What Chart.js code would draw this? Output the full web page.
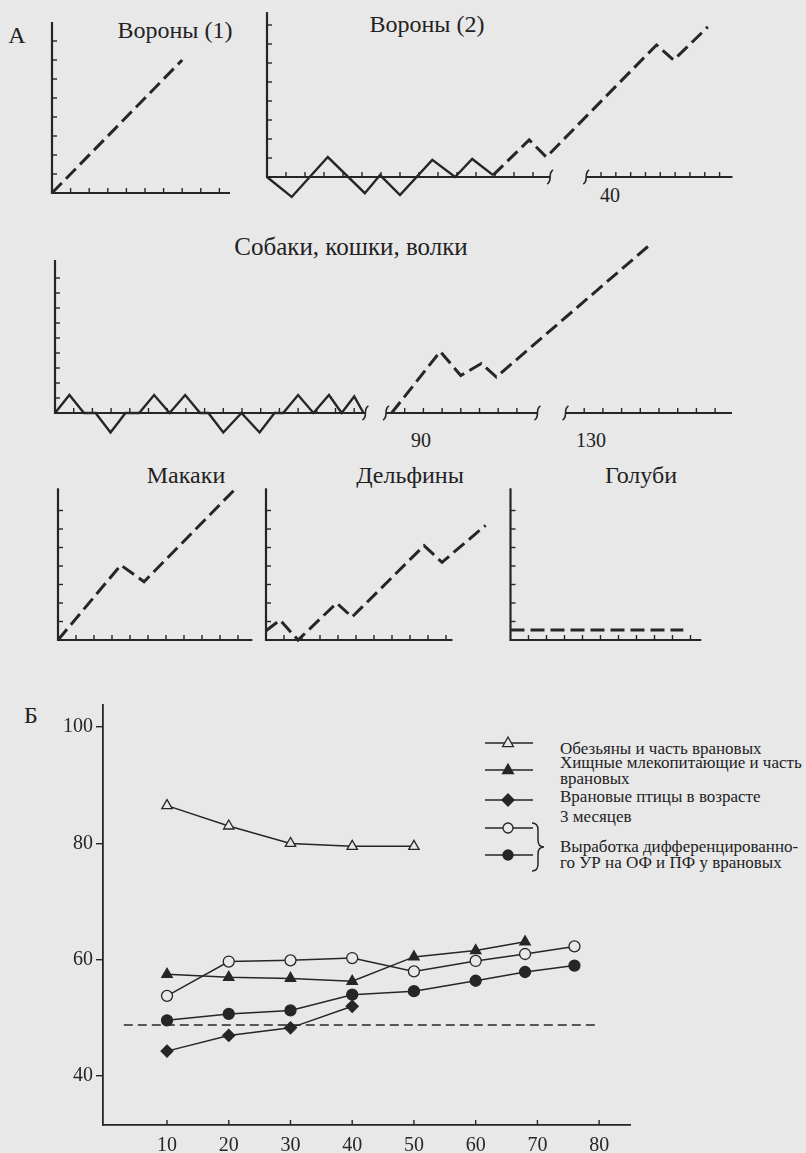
<!DOCTYPE html>
<html lang="ru">
<head>
<meta charset="utf-8" />
<title>Решение задачи на размерность</title>
<script src="https://cdn.jsdelivr.net/npm/chart.js/dist/chart.umd.min.js"></script>
<style>
  body { margin: 0; width: 806px; height: 1153px; overflow: hidden; position: relative;
         background: #e8e8e8; color: #222; font-family: "Liberation Serif", "DejaVu Serif", serif; }
  canvas { position: absolute; }
  .lbl { position: absolute; transform: translate(-50%, -50%); white-space: nowrap; line-height: 1; font-size: 24px; }
  .num { font-size: 20px; }
  .leg { position: absolute; left: 560px; white-space: nowrap; line-height: 1; font-size: 17px; }
</style>
</head>
<body>
<div class="lbl" style="left:17px;top:35px">А</div>
<div class="lbl" style="left:175px;top:30px">Вороны (1)</div>
<div class="lbl" style="left:427px;top:24px">Вороны (2)</div>
<div class="lbl num" style="left:610px;top:195px">40</div>
<div class="lbl" style="left:351px;top:246px;font-size:25px">Собаки, кошки, волки</div>
<div class="lbl num" style="left:421px;top:440px">90</div>
<div class="lbl num" style="left:591px;top:440px">130</div>
<div class="lbl" style="left:186px;top:475px">Макаки</div>
<div class="lbl" style="left:410px;top:475px">Дельфины</div>
<div class="lbl" style="left:641px;top:475px">Голуби</div>
<div class="lbl" style="left:31px;top:715px">Б</div>

<div class="leg" style="top:740px">Обезьяны и часть врановых</div>
<div class="leg" style="top:754px">Хищные млекопитающие и часть</div>
<div class="leg" style="top:770px">врановых</div>
<div class="leg" style="top:788px">Врановые птицы в возрасте</div>
<div class="leg" style="top:808px">3 месяцев</div>
<div class="leg" style="top:838px">Выработка дифференцированно-</div>
<div class="leg" style="top:854px">го УР на ОФ и ПФ у врановых</div>

<canvas id="crows1"></canvas>
<canvas id="crows2"></canvas>
<canvas id="dogs"></canvas>
<canvas id="macaques"></canvas>
<canvas id="dolphins"></canvas>
<canvas id="pigeons"></canvas>
<canvas id="chartB" width="806" height="463" style="left:0;top:690px"></canvas>

<script>
// ---- panel A: schematic curves, x and y in axis-tick units ----
const crows1X = [0, 7];
const crows1Y = [0, 7];

const crows2SolidX = [0, 1.3, 3.2, 5.15, 5.95, 7.0, 8.7, 9.9, 10.8, 11.9];
const crows2SolidY = [0, -1.05, 1.05, -0.85, 0.1, -0.95, 0.9, 0, 0.95, 0.1];
const crows2DashX = [11.9, 13.8, 14.7, 20.5, 21.4, 23.2];
const crows2DashY = [0.1, 1.95, 1.05, 6.95, 6.15, 7.9];

const dogsSolidX = [0, 0.77, 1.55, 2.17, 2.97, 3.77, 4.5, 5.3, 6.13, 6.96, 7.76, 8.2, 9.0, 9.97, 10.94, 11.74, 12.2, 13.0, 13.82, 14.65, 15.33, 16.0, 16.5];
const dogsSolidY = [0, 1.2, 0, 0, -1.3, 0, 0, 1.2, 0, 1.2, 0, 0, -1.3, 0, -1.3, 0, 0, 1.2, 0, 1.2, 0, 1.1, 0];
const dogsDashX = [18, 20.6, 21.7, 22.8, 23.6, 31.8];
const dogsDashY = [0, 4.1, 2.5, 3.3, 2.4, 11.2];

const macaquesX = [0, 3.49, 4.78, 9.78];
const macaquesY = [0, 4.05, 3.15, 8.1];

const dolphinsX = [0, 0.78, 1.78, 3.93, 4.78, 8.78, 9.78, 12.2];
const dolphinsY = [0.5, 1.08, 0, 2.0, 1.24, 5.1, 4.2, 6.2];

const pigeonsX = [0, 9.6];
const pigeonsY = [0.54, 0.54];

// ---- panel Б: % correct by trials ----
const xTicksB = [10, 20, 30, 40, 50, 60, 70, 80];
const yTicksB = [40, 60, 80, 100];

const monkeysX = [10, 20, 30, 40, 50];
const monkeysY = [86.5, 83, 80, 79.5, 79.5];
const carnivoresX = [10, 20, 30, 40, 50, 60, 68];
const carnivoresY = [57.5, 57, 56.8, 56.3, 60.5, 61.6, 63.1];
const youngCorvidsX = [10, 20, 30, 40];
const youngCorvidsY = [44.3, 47, 48.3, 52];
const diffOpenX = [10, 20, 30, 40, 50, 60, 68, 76];
const diffOpenY = [53.8, 59.7, 59.9, 60.3, 58, 59.8, 61, 62.3];
const diffFilledX = [10, 20, 30, 40, 50, 60, 68, 76];
const diffFilledY = [49.6, 50.7, 51.3, 54, 54.6, 56.4, 57.9, 59];
const chanceX = [3, 80];
const chanceY = [48.8, 48.8];

const INK = "#262626";
const PAPER = "#e8e8e8";
const pts = (xs, ys) => xs.map((v, i) => ({ x: v, y: ys[i] }));

// axes of the little panels, drawn from their scales
const sketchAxes = {
  id: "sketchAxes",
  beforeDatasetsDraw(chart, args, o) {
    const { ctx, scales: { x, y } } = chart;
    const x0 = x.getPixelForValue(0), y0 = y.getPixelForValue(0);
    ctx.save();
    ctx.strokeStyle = INK;
    ctx.lineWidth = 2.2;
    ctx.beginPath();
    ctx.moveTo(x0, y0 + 1);
    ctx.lineTo(x0, y.getPixelForValue(o.yTop));
    ctx.stroke();
    ctx.lineWidth = 1.4;
    for (let v = 1; v <= o.yTicks; v++) {
      const p = y.getPixelForValue(v);
      ctx.beginPath(); ctx.moveTo(x0, p); ctx.lineTo(x0 + 5, p); ctx.stroke();
    }
    o.segs.forEach(s => {
      ctx.lineWidth = 2.2;
      ctx.beginPath();
      ctx.moveTo(x.getPixelForValue(s.from), y0);
      ctx.lineTo(x.getPixelForValue(s.to), y0);
      ctx.stroke();
      ctx.lineWidth = 1.4;
      for (let v = s.from + s.step; v < s.to - 0.2; v += s.step) {
        const p = x.getPixelForValue(v);
        ctx.beginPath(); ctx.moveTo(p, y0); ctx.lineTo(p, y0 - 5); ctx.stroke();
      }
    });
    // axis breaks
    ctx.lineWidth = 1.6;
    (o.breaks || []).forEach(v => {
      const p = x.getPixelForValue(v);
      ctx.beginPath();
      ctx.moveTo(p - 3, y0 + 7);
      ctx.bezierCurveTo(p + 3, y0 + 4, p - 3, y0 - 4, p + 3, y0 - 7);
      ctx.stroke();
    });
    ctx.restore();
  }
};

const dashed = (xs, ys) => ({ data: pts(xs, ys), borderColor: INK, borderWidth: 3, borderDash: [14, 6], pointRadius: 0, tension: 0 });
const solid = (xs, ys) => ({ data: pts(xs, ys), borderColor: INK, borderWidth: 2.4, pointRadius: 0, tension: 0 });

// box = [left, top, width, height], origin = axis corner in page px, unit = px per tick
function sketch(id, box, origin, unit, datasets, axes) {
  const cv = document.getElementById(id);
  cv.width = box[2]; cv.height = box[3];
  cv.style.left = box[0] + "px"; cv.style.top = box[1] + "px";
  new Chart(cv, {
    type: "line",
    data: { datasets },
    options: {
      responsive: false, animation: false, events: [],
      layout: { padding: 0 },
      plugins: { legend: { display: false }, tooltip: { enabled: false }, sketchAxes: axes },
      scales: {
        x: { type: "linear", display: false,
             min: (box[0] - origin[0]) / unit[0], max: (box[0] + box[2] - origin[0]) / unit[0] },
        y: { type: "linear", display: false,
             min: (origin[1] - box[1] - box[3]) / unit[1], max: (origin[1] - box[1]) / unit[1] }
      }
    },
    plugins: [sketchAxes]
  });
}

sketch("crows1", [38, 8, 210, 200], [52, 193], [18.6, 19],
  [dashed(crows1X, crows1Y)],
  { yTop: 9, yTicks: 8, segs: [{ from: 0, to: 9.57, step: 1 }] });

sketch("crows2", [255, 4, 490, 210], [267, 177], [19, 19],
  [solid(crows2SolidX, crows2SolidY), dashed(crows2DashX, crows2DashY)],
  { yTop: 8.68, yTicks: 8, segs: [{ from: 0, to: 14.9, step: 1 }, { from: 16.8, to: 24.5, step: 0.78 }], breaks: [14.9, 16.8] });

sketch("dogs", [40, 230, 710, 225], [55, 413], [18.7, 15],
  [solid(dogsSolidX, dogsSolidY), dashed(dogsDashX, dogsDashY)],
  { yTop: 10.2, yTicks: 9, segs: [{ from: 0, to: 16.6, step: 1 }, { from: 17.7, to: 25.8, step: 1 }, { from: 27.3, to: 36.2, step: 1 }], breaks: [16.6, 17.7, 25.8, 27.3] });

sketch("macaques", [45, 480, 215, 175], [58, 640], [18, 18.5],
  [dashed(macaquesX, macaquesY)],
  { yTop: 8.2, yTicks: 7, segs: [{ from: 0, to: 10.8, step: 1 }] });

sketch("dolphins", [255, 480, 245, 175], [266, 640], [18, 18.5],
  [dashed(dolphinsX, dolphinsY)],
  { yTop: 8.2, yTicks: 7, segs: [{ from: 0, to: 10.36, step: 1 }] });

sketch("pigeons", [500, 480, 215, 175], [510.5, 640], [18, 18.5],
  [dashed(pigeonsX, pigeonsY)],
  { yTop: 8.2, yTicks: 7, segs: [{ from: 0, to: 10.6, step: 1 }] });

// ---- panel Б ----
function marker(ctx, style, x, y, r, filled) {
  ctx.beginPath();
  if (style === "circle") {
    ctx.arc(x, y, r, 0, Math.PI * 2);
  } else if (style === "triangle") {
    ctx.moveTo(x, y - r);
    ctx.lineTo(x + r * 0.9, y + r * 0.6);
    ctx.lineTo(x - r * 0.9, y + r * 0.6);
    ctx.closePath();
  } else {
    ctx.moveTo(x, y - r); ctx.lineTo(x + r, y); ctx.lineTo(x, y + r); ctx.lineTo(x - r, y); ctx.closePath();
  }
  ctx.fillStyle = filled ? INK : PAPER;
  ctx.fill();
  ctx.stroke();
}

const legendB = {
  id: "legendB",
  afterDraw(chart) {
    const { ctx, scales: { x } } = chart;
    const base = chart.chartArea.bottom;
    ctx.save();
    ctx.strokeStyle = INK;
    // inward ticks on the x axis
    ctx.lineWidth = 1.4;
    xTicksB.forEach(v => {
      const p = x.getPixelForValue(v);
      ctx.beginPath(); ctx.moveTo(p, base); ctx.lineTo(p, base - 5); ctx.stroke();
    });
    // legend samples
    const rows = [53, 80, 110, 138, 165];
    chart.data.datasets.slice(0, 5).forEach((ds, i) => {
      const y = rows[i];
      ctx.lineWidth = 1.5;
      ctx.beginPath(); ctx.moveTo(485, y); ctx.lineTo(533, y); ctx.stroke();
      ctx.lineWidth = 1.3;
      marker(ctx, ds.pointStyle, 508, y, ds.pointStyle === "circle" ? 5 : 6, ds.pointBackgroundColor === INK);
    });
    // brace
    ctx.lineWidth = 1.5;
    ctx.beginPath();
    ctx.moveTo(532, 133);
    ctx.quadraticCurveTo(538, 133, 538, 140);
    ctx.lineTo(538, 150);
    ctx.quadraticCurveTo(538, 157, 544, 157);
    ctx.quadraticCurveTo(538, 157, 538, 164);
    ctx.lineTo(538, 174);
    ctx.quadraticCurveTo(538, 181, 532, 181);
    ctx.stroke();
    ctx.restore();
  }
};

const series = (label, xs, ys, style, filled, r) => ({
  label, data: pts(xs, ys), borderColor: INK, borderWidth: 1.5, tension: 0,
  pointStyle: style, pointRadius: r, pointBorderWidth: 1.3, pointBorderColor: INK,
  pointBackgroundColor: filled ? INK : PAPER
});

const tickFont = { family: "Liberation Serif", size: 20 };

new Chart(document.getElementById("chartB"), {
  type: "line",
  data: {
    datasets: [
      series("Обезьяны и часть врановых", monkeysX, monkeysY, "triangle", false, 6),
      series("Хищные млекопитающие и часть врановых", carnivoresX, carnivoresY, "triangle", true, 6),
      series("Врановые птицы в возрасте 3 месяцев", youngCorvidsX, youngCorvidsY, "rectRot", true, 6),
      series("Выработка дифференцированного УР на ОФ", diffOpenX, diffOpenY, "circle", false, 5.5),
      series("Выработка дифференцированного УР на ПФ", diffFilledX, diffFilledY, "circle", true, 5.5),
      { label: "chance", data: pts(chanceX, chanceY), borderColor: INK, borderWidth: 1.5, borderDash: [9, 5], pointRadius: 0 }
    ]
  },
  options: {
    responsive: false, animation: false, events: [],
    layout: { padding: { left: 0, top: 15, right: 176, bottom: 0 } },
    plugins: { legend: { display: false }, tooltip: { enabled: false } },
    scales: {
      x: {
        type: "linear", min: -0.37, max: 85,
        afterBuildTicks: s => { s.ticks = xTicksB.map(v => ({ value: v })); },
        afterFit: s => { s.height = 28; },
        grid: { display: false },
        border: { display: true, color: INK, width: 1.8 },
        ticks: { font: tickFont, color: INK, padding: 1, maxRotation: 0, autoSkip: false }
      },
      y: {
        type: "linear", min: 31.6, max: 103.8,
        afterBuildTicks: s => { s.ticks = yTicksB.map(v => ({ value: v })); },
        afterFit: s => { s.width = 103; },
        grid: { display: true, drawOnChartArea: false, drawTicks: true, tickLength: 7, color: INK, lineWidth: 1.4 },
        border: { display: true, color: INK, width: 1.8 },
        ticks: { font: tickFont, color: INK, padding: 3, autoSkip: false }
      }
    }
  },
  plugins: [legendB]
});
</script>
</body>
</html>
